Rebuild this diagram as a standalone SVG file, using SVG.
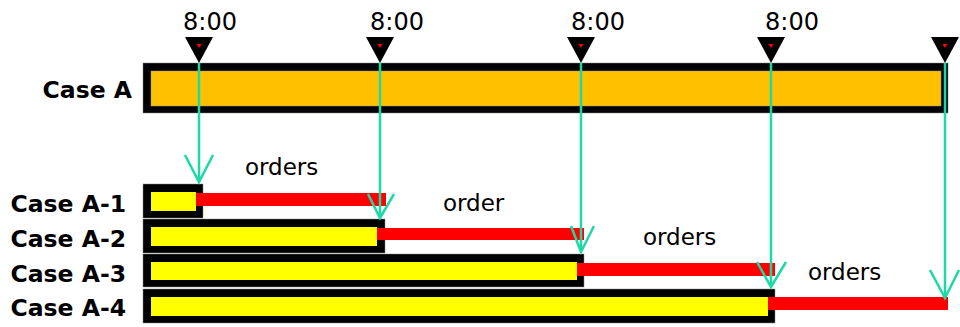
<svg xmlns="http://www.w3.org/2000/svg" width="960" height="327" viewBox="0 0 960 327">
<style>
.lbl{font-family:"DejaVu Sans",sans-serif;font-weight:bold;font-size:23.5px;fill:#000;text-anchor:end}
.t{font-family:"DejaVu Sans",sans-serif;font-size:24px;fill:#000;text-anchor:middle}
.o{font-family:"DejaVu Sans",sans-serif;font-size:23px;fill:#000}
.outer{fill:#000;stroke:#888;stroke-width:0.5}
.inner{fill:#FFFF00}
.red{fill:#FF0000}
.conn{stroke:#1DD9A5;stroke-width:2.5;fill:none}
</style>
<defs>
<g id="mk">
<polygon points="-14,-26 14,-26 0,0" fill="#000"/>
<polygon points="-2.5,-19 2.5,-19 0,-15" fill="#FF0000"/>
</g>
</defs>
<rect width="960" height="327" fill="#fff"/>
<g id="caseA">
<rect x="143" y="63" width="805" height="50" class="outer"/>
<rect x="151" y="71" width="790" height="35" fill="#FFC000" stroke="#999" stroke-width="0.5"/>
<text x="132" y="98" class="lbl">Case A</text>
</g>
<g id="times">
<text x="210" y="30" class="t">8:00</text>
<text x="397" y="30" class="t">8:00</text>
<text x="598" y="30" class="t">8:00</text>
<text x="792" y="30" class="t">8:00</text>
</g>
<g id="caseA1">
<rect x="143" y="184" width="60" height="34" class="outer"/>
<rect x="151" y="192" width="45" height="19" class="inner"/>
<rect x="196" y="193" width="190" height="13" class="red"/>
<text x="126" y="212" class="lbl">Case A-1</text>
</g>
<g id="caseA2">
<rect x="143" y="219" width="242" height="34" class="outer"/>
<rect x="151" y="227" width="226" height="19" class="inner"/>
<rect x="377" y="228" width="207" height="12" class="red"/>
<text x="126" y="247" class="lbl">Case A-2</text>
</g>
<g id="caseA3">
<rect x="143" y="254" width="441" height="33" class="outer"/>
<rect x="151" y="262" width="426" height="18" class="inner"/>
<rect x="577" y="263" width="198" height="13" class="red"/>
<text x="126" y="282" class="lbl">Case A-3</text>
</g>
<g id="caseA4">
<rect x="143" y="289" width="632" height="34" class="outer"/>
<rect x="151" y="297" width="617" height="19" class="inner"/>
<rect x="768" y="297" width="180" height="13" class="red"/>
<text x="126" y="316" class="lbl">Case A-4</text>
</g>
<g id="labels">
<text x="245" y="175" class="o">orders</text>
<text x="443" y="211" class="o">order</text>
<text x="643" y="245" class="o">orders</text>
<text x="808" y="280" class="o">orders</text>
</g>
<g id="connectors">
<path class="conn" d="M199,63 V182 M185,155 L199,182 L213,155"/>
<path class="conn" d="M380,63 V218 M368,194 L380,218 L394,194"/>
<path class="conn" d="M581,63 V252 M571,226 L581,252 L594,226"/>
<path class="conn" d="M771,63 V287 M757,262 L771,287 L786,262"/>
<path class="conn" d="M945,63 V298 M930,270 L945,298 L959,270"/>
</g>
<g id="markers">
<use href="#mk" x="199" y="63"/>
<use href="#mk" x="380" y="63"/>
<use href="#mk" x="581" y="63"/>
<use href="#mk" x="771" y="63"/>
<use href="#mk" x="945" y="63"/>
</g>
</svg>
